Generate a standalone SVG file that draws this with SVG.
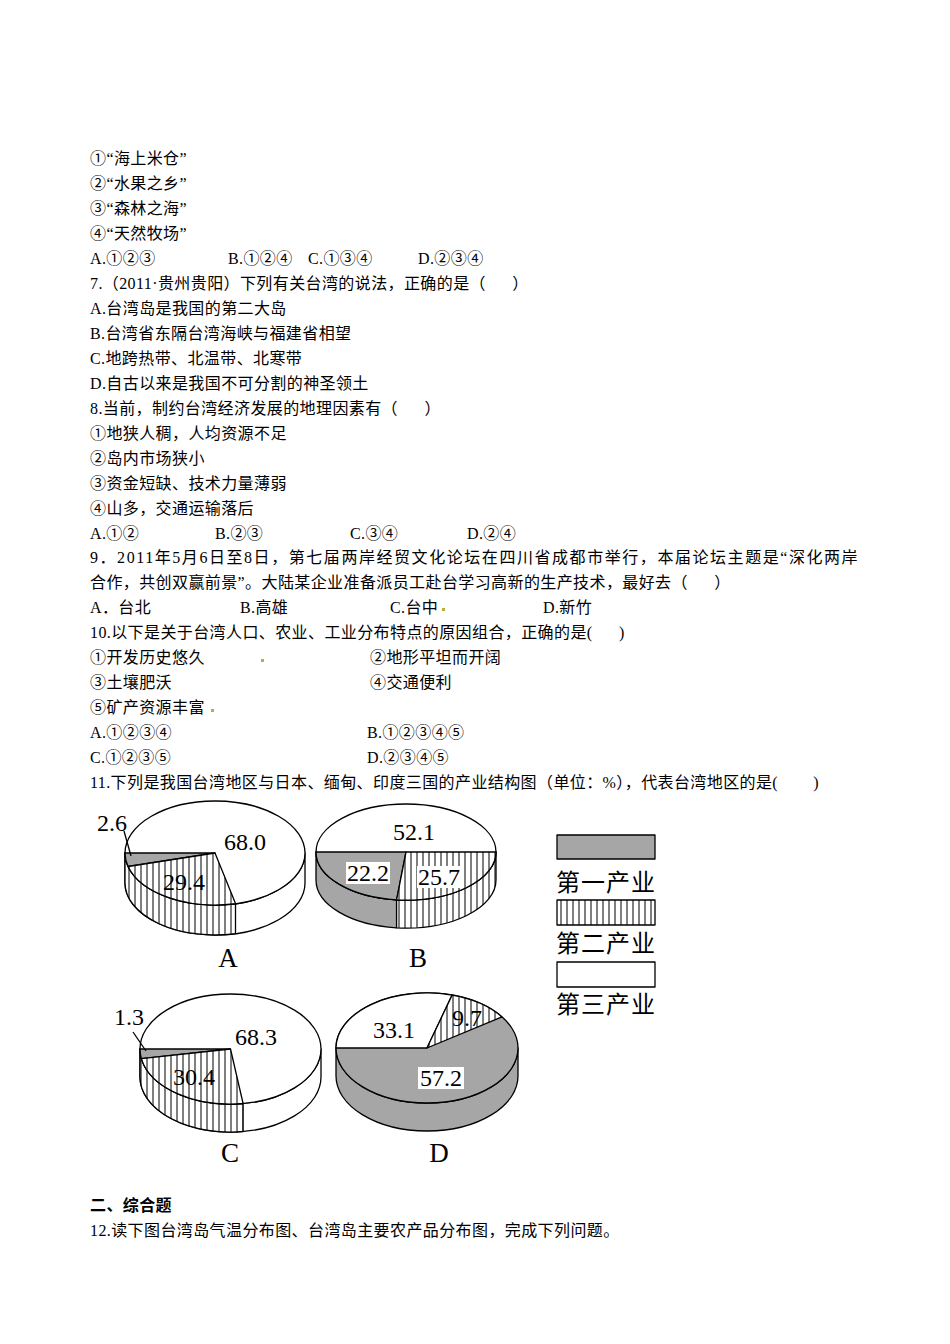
<svg xmlns="http://www.w3.org/2000/svg" width="950" height="1344" viewBox="0 0 950 1344">
<style>
.t{font-family:"Liberation Serif","Noto Sans CJK SC",serif;font-size:16px;letter-spacing:0.4px;fill:#000;white-space:pre}
.n{font-family:"Liberation Serif",serif;font-size:24px;fill:#000;text-anchor:middle}
.l{font-family:"Liberation Serif",serif;font-size:27px;fill:#000;text-anchor:middle}
.lg{font-family:"Noto Sans CJK SC",sans-serif;font-size:24px;fill:#000}
.s{stroke:#000;stroke-width:1.3;stroke-linejoin:round}
.g{fill:#a6a6a6}
.w{fill:#fff}
.v{fill:url(#vs)}
</style>
<defs>
<pattern id="vs" width="6" height="10" patternUnits="userSpaceOnUse"><rect width="6" height="10" fill="#fff"/><line x1="3" y1="0" x2="3" y2="10" stroke="#000" stroke-width="1"/></pattern>
</defs>
<rect width="950" height="1344" fill="#fff"/>
<g id="text">
<text class="t" x="90" y="164">①“海上米仓”</text>
<text class="t" x="90" y="189">②“水果之乡”</text>
<text class="t" x="90" y="214">③“森林之海”</text>
<text class="t" x="90" y="239">④“天然牧场”</text>
<text class="t" x="90" y="264">A.①②③</text><text class="t" x="228" y="264">B.①②④</text><text class="t" x="308" y="264">C.①③④</text><text class="t" x="418" y="264">D.②③④</text>
<text class="t" x="90" y="289">7.（2011·贵州贵阳）下列有关台湾的说法，正确的是（      ）</text>
<text class="t" x="90" y="314">A.台湾岛是我国的第二大岛</text>
<text class="t" x="90" y="339">B.台湾省东隔台湾海峡与福建省相望</text>
<text class="t" x="90" y="364">C.地跨热带、北温带、北寒带</text>
<text class="t" x="90" y="389">D.自古以来是我国不可分割的神圣领土</text>
<text class="t" x="90" y="414">8.当前，制约台湾经济发展的地理因素有（      ）</text>
<text class="t" x="90" y="439">①地狭人稠，人均资源不足</text>
<text class="t" x="90" y="464">②岛内市场狭小</text>
<text class="t" x="90" y="489">③资金短缺、技术力量薄弱</text>
<text class="t" x="90" y="514">④山多，交通运输落后</text>
<text class="t" x="90" y="539">A.①②</text><text class="t" x="215" y="539">B.②③</text><text class="t" x="350" y="539">C.③④</text><text class="t" x="467" y="539">D.②④</text>
<text class="t" x="90" y="563" textLength="768">9．2011年5月6日至8日，第七届两岸经贸文化论坛在四川省成都市举行，本届论坛主题是“深化两岸</text>
<text class="t" x="90" y="588">合作，共创双赢前景”。大陆某企业准备派员工赴台学习高新的生产技术，最好去（      ）</text>
<text class="t" x="90" y="613">A．台北</text><text class="t" x="240" y="613">B.高雄</text><text class="t" x="390" y="613">C.台中</text><text class="t" x="543" y="613">D.新竹</text>
<text class="t" x="90" y="638">10.以下是关于台湾人口、农业、工业分布特点的原因组合，正确的是(      )</text>
<text class="t" x="90" y="663">①开发历史悠久</text><text class="t" x="370" y="663">②地形平坦而开阔</text>
<text class="t" x="90" y="688">③土壤肥沃</text><text class="t" x="370" y="688">④交通便利</text>
<text class="t" x="90" y="713">⑤矿产资源丰富</text>
<text class="t" x="90" y="738">A.①②③④</text><text class="t" x="367" y="738">B.①②③④⑤</text>
<text class="t" x="90" y="763">C.①②③⑤</text><text class="t" x="367" y="763">D.②③④⑤</text>
<text class="t" x="90" y="788">11.下列是我国台湾地区与日本、缅甸、印度三国的产业结构图（单位：%），代表台湾地区的是(        )</text>
<text class="t" x="90" y="1211" font-weight="bold">二、综合题</text>
<text class="t" x="90" y="1236">12.读下图台湾岛气温分布图、台湾岛主要农产品分布图，完成下列问题。</text>
<rect x="442" y="608" width="3" height="3" fill="#b5b040"/>
<rect x="261" y="659" width="3" height="3" fill="#b5b040"/>
<rect x="211" y="709" width="3" height="3" fill="#b5b040"/>
</g>
<g id="pieA">
<path class="s w" d="M125,853 A90,52 0 0 0 305,853 L305,883 A90,52 0 0 1 125,883 Z"/>
<path class="s v" d="M125,853 A90,52 0 0 0 235.5,903.6 L235.5,933.6 A90,52 0 0 1 125,883 Z"/>
<ellipse class="s w" cx="215" cy="853" rx="90" ry="52"/>
<path class="s g" d="M215,853 L125,853 A90,52 0 0 0 128.1,866.5 Z"/>
<path class="s v" d="M215,853 L128.1,866.5 A90,52 0 0 0 235.5,903.6 Z"/>
<line class="s" x1="124" y1="831" x2="131" y2="856"/>
<text class="n" x="112" y="831">2.6</text>
<text class="n" x="245" y="850">68.0</text>
<text class="n" x="184" y="890">29.4</text>
<text class="l" x="228" y="967">A</text>
</g>
<g id="pieB">
<path class="s g" d="M316,852 A90,48 0 0 0 396.6,899.8 L396.6,927.8 A90,48 0 0 1 316,880 Z"/>
<path class="s v" d="M396.6,899.8 A90,48 0 0 0 496,852 L496,880 A90,48 0 0 1 396.6,927.8 Z"/>
<ellipse class="s w" cx="406" cy="852" rx="90" ry="48"/>
<path class="s g" d="M406,852 L316,852 A90,48 0 0 0 396.6,899.8 Z"/>
<path class="s v" d="M406,852 L396.6,899.8 A90,48 0 0 0 496,852 Z"/>
<text class="n" x="414" y="840">52.1</text>
<rect x="346" y="862" width="44" height="22" fill="#fff"/>
<text class="n" x="368" y="881">22.2</text>
<rect x="417" y="866" width="44" height="22" fill="#fff"/>
<text class="n" x="439" y="885">25.7</text>
<text class="l" x="418" y="967">B</text>
</g>
<g id="pieC">
<path class="s w" d="M140,1049 A90.5,55 0 0 0 321,1049 L321,1077 A90.5,55 0 0 1 140,1077 Z"/>
<path class="s v" d="M140,1049 A90.5,55 0 0 0 243.1,1103.5 L243.1,1131.5 A90.5,55 0 0 1 140,1077 Z"/>
<ellipse class="s w" cx="230.5" cy="1049" rx="90.5" ry="55"/>
<path class="s g" d="M230.5,1049 L140,1049 A90.5,55 0 0 0 141.4,1058.6 Z"/>
<path class="s v" d="M230.5,1049 L141.4,1058.6 A90.5,55 0 0 0 243.1,1103.5 Z"/>
<line class="s" x1="133" y1="1032" x2="146" y2="1051"/>
<text class="n" x="129" y="1025">1.3</text>
<text class="n" x="256" y="1045">68.3</text>
<text class="n" x="194" y="1085">30.4</text>
<text class="l" x="230" y="1162">C</text>
</g>
<g id="pieD">
<path class="s g" d="M336,1048 A91,55 0 0 0 518,1048 L518,1076 A91,55 0 0 1 336,1076 Z"/>
<ellipse class="s g" cx="427" cy="1048" rx="91" ry="55"/>
<path class="s w" d="M427,1048 L336,1048 A91,55 0 0 1 452.1,995.1 Z"/>
<path class="s v" d="M427,1048 L452.1,995.1 A91,55 0 0 1 502,1016.9 Z"/>
<text class="n" x="394" y="1038">33.1</text>
<text class="n" x="467" y="1026">9.7</text>
<rect x="418" y="1067" width="46" height="22" fill="#fff"/>
<text class="n" x="441" y="1086">57.2</text>
<text class="l" x="439" y="1162">D</text>
</g>
<g id="legend">
<rect class="s g" x="557" y="835" width="98" height="24"/>
<text class="lg" x="556" y="891" textLength="99">第一产业</text>
<rect class="s v" x="557" y="900" width="98" height="25"/>
<text class="lg" x="556" y="952" textLength="99">第二产业</text>
<rect class="s w" x="557" y="962" width="98" height="25"/>
<text class="lg" x="556" y="1013" textLength="99">第三产业</text>
</g>
</svg>
